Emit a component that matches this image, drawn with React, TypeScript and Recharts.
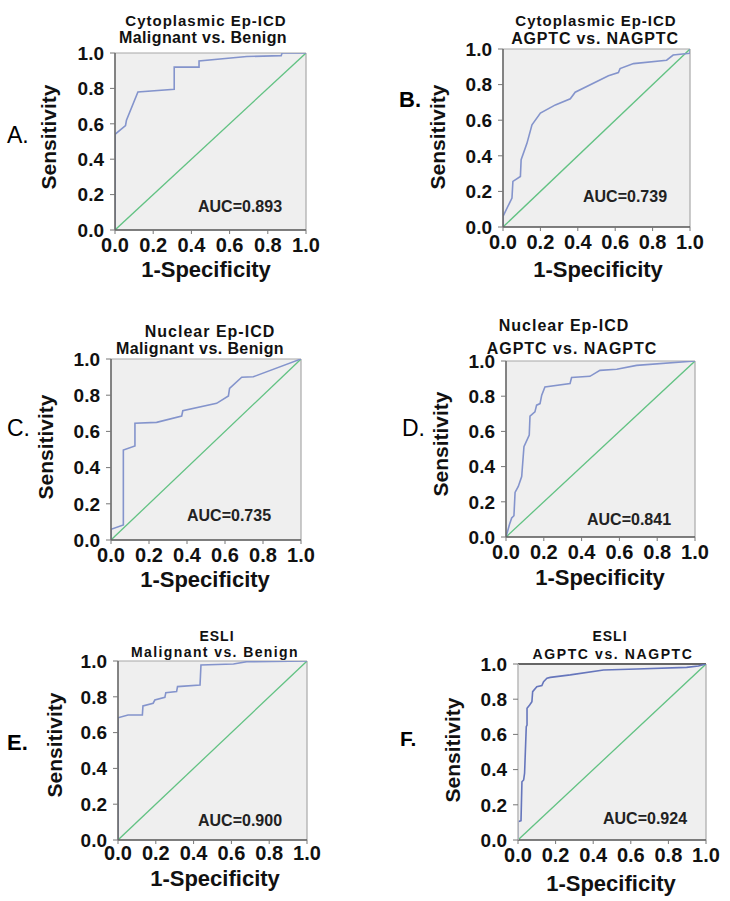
import { CartesianGrid, Line, LineChart, ReferenceLine, XAxis, YAxis } from "recharts";

type Pt = { x: number; y: number };

const FONT = '"Liberation Sans", Arial, Helvetica, sans-serif';

const axisTicks = [0, 0.2, 0.4, 0.6, 0.8, 1.0];
const diagonal: Pt[] = [
  { x: 0, y: 0 },
  { x: 1, y: 1 },
];

const rocA: Pt[] = [
  { x: 0, y: 0 }, { x: 0, y: 0.54 }, { x: 0.055, y: 0.59 }, { x: 0.06, y: 0.62 },
  { x: 0.12, y: 0.78 }, { x: 0.31, y: 0.795 }, { x: 0.31, y: 0.92 }, { x: 0.44, y: 0.92 },
  { x: 0.44, y: 0.955 }, { x: 0.69, y: 0.98 }, { x: 0.87, y: 0.985 }, { x: 0.875, y: 1 },
  { x: 1, y: 1 },
];

const rocB: Pt[] = [
  { x: 0, y: 0 }, { x: 0, y: 0.06 }, { x: 0.048, y: 0.163 }, { x: 0.053, y: 0.256 },
  { x: 0.093, y: 0.284 }, { x: 0.097, y: 0.378 }, { x: 0.128, y: 0.47 }, { x: 0.155, y: 0.574 },
  { x: 0.2, y: 0.64 }, { x: 0.28, y: 0.686 }, { x: 0.36, y: 0.72 }, { x: 0.386, y: 0.757 },
  { x: 0.564, y: 0.85 }, { x: 0.617, y: 0.868 }, { x: 0.626, y: 0.89 }, { x: 0.698, y: 0.918 },
  { x: 0.875, y: 0.937 }, { x: 0.91, y: 0.966 }, { x: 1, y: 0.976 }, { x: 1, y: 1 },
];

const rocC: Pt[] = [
  { x: 0, y: 0 }, { x: 0, y: 0.059 }, { x: 0.065, y: 0.083 }, { x: 0.065, y: 0.497 },
  { x: 0.126, y: 0.52 }, { x: 0.126, y: 0.645 }, { x: 0.24, y: 0.65 }, { x: 0.372, y: 0.685 },
  { x: 0.378, y: 0.714 }, { x: 0.556, y: 0.755 }, { x: 0.618, y: 0.796 }, { x: 0.624, y: 0.838 },
  { x: 0.688, y: 0.899 }, { x: 0.749, y: 0.902 }, { x: 1, y: 1 },
];

const rocD: Pt[] = [
  { x: 0, y: 0 }, { x: 0.018, y: 0.07 }, { x: 0.03, y: 0.108 }, { x: 0.042, y: 0.121 },
  { x: 0.048, y: 0.253 }, { x: 0.065, y: 0.287 }, { x: 0.083, y: 0.343 }, { x: 0.095, y: 0.513 },
  { x: 0.123, y: 0.579 }, { x: 0.127, y: 0.687 }, { x: 0.153, y: 0.711 }, { x: 0.162, y: 0.749 },
  { x: 0.18, y: 0.758 }, { x: 0.189, y: 0.806 }, { x: 0.206, y: 0.853 }, { x: 0.339, y: 0.872 },
  { x: 0.347, y: 0.906 }, { x: 0.444, y: 0.913 }, { x: 0.497, y: 0.947 }, { x: 0.586, y: 0.953 },
  { x: 0.691, y: 0.975 }, { x: 1, y: 1 },
];

const rocE: Pt[] = [
  { x: 0, y: 0 }, { x: 0, y: 0.683 }, { x: 0.053, y: 0.698 }, { x: 0.129, y: 0.698 },
  { x: 0.132, y: 0.749 }, { x: 0.186, y: 0.764 }, { x: 0.195, y: 0.782 }, { x: 0.248, y: 0.797 },
  { x: 0.253, y: 0.823 }, { x: 0.31, y: 0.829 }, { x: 0.315, y: 0.857 }, { x: 0.434, y: 0.866 },
  { x: 0.439, y: 0.978 }, { x: 0.611, y: 0.983 }, { x: 0.681, y: 0.996 }, { x: 1, y: 1 },
];

const rocF: Pt[] = [
  { x: 0, y: 0 }, { x: 0, y: 0.104 }, { x: 0.016, y: 0.11 }, { x: 0.021, y: 0.331 },
  { x: 0.03, y: 0.341 }, { x: 0.035, y: 0.38 }, { x: 0.044, y: 0.644 }, { x: 0.048, y: 0.653 },
  { x: 0.048, y: 0.748 }, { x: 0.062, y: 0.767 }, { x: 0.074, y: 0.786 }, { x: 0.078, y: 0.843 },
  { x: 0.1, y: 0.871 }, { x: 0.127, y: 0.877 }, { x: 0.136, y: 0.9 }, { x: 0.154, y: 0.919 },
  { x: 0.172, y: 0.924 }, { x: 0.278, y: 0.938 }, { x: 0.455, y: 0.966 }, { x: 0.632, y: 0.972 },
  { x: 0.897, y: 0.981 }, { x: 0.96, y: 0.989 }, { x: 1, y: 1 },
];

const panelLetters = ["A.", "B.", "C.", "D.", "E.", "F."];
const titleTop = ["Cytoplasmic Ep-ICD", "Cytoplasmic Ep-ICD", "Nuclear Ep-ICD", "Nuclear Ep-ICD", "ESLI", "ESLI"];
const titleBottom = [
  "Malignant vs. Benign",
  "AGPTC vs. NAGPTC",
  "Malignant vs. Benign",
  "AGPTC vs. NAGPTC",
  "Malignant vs. Benign",
  "AGPTC vs. NAGPTC",
];
const aucValues = ["0.893", "0.739", "0.735", "0.841", "0.900", "0.924"];
const rocSeries = [rocA, rocB, rocC, rocD, rocE, rocF];

interface Layout {
  plot: { x: number; y: number; w: number; h: number };
  t1: [number, number, number, number]; // x, y, size, letterSpacing
  t2: [number, number, number, number];
  letter: { x: number; y: number; size: number; bold: boolean };
  sens: [number, number];
  spec: [number, number];
  auc: [number, number];
  xTickGap: number;
  lineColor: string;
  leftAxis: string;
  topBorder: string;
}

const layouts: Layout[] = [
  {
    plot: { x: 115, y: 53, w: 191, h: 177 },
    t1: [206, 20, 15, 1], t2: [203, 38, 16, 0.4],
    letter: { x: 7, y: 135, size: 23, bold: false },
    sens: [48, 137], spec: [206, 270], auc: [198, 207],
    xTickGap: 4,
    lineColor: "#8494cc", leftAxis: "#666", topBorder: "#a8a8a8",
  },
  {
    plot: { x: 503, y: 49, w: 187, h: 178 },
    t1: [596, 20, 15, 1], t2: [595, 39, 16, 0.8],
    letter: { x: 399, y: 100, size: 22, bold: true },
    sens: [437, 137], spec: [598, 270], auc: [583, 197],
    xTickGap: 4,
    lineColor: "#8494cc", leftAxis: "#666", topBorder: "#a8a8a8",
  },
  {
    plot: { x: 111, y: 359, w: 190, h: 181 },
    t1: [210, 332, 16, 1], t2: [200, 349, 16, 0.4],
    letter: { x: 7, y: 428, size: 23, bold: false },
    sens: [45, 447], spec: [205, 580], auc: [187, 516],
    xTickGap: 4,
    lineColor: "#8494cc", leftAxis: "#666", topBorder: "#a8a8a8",
  },
  {
    plot: { x: 506, y: 361, w: 189, h: 176 },
    t1: [564, 326, 16, 1], t2: [572, 349, 16, 1],
    letter: { x: 402, y: 428, size: 23, bold: false },
    sens: [440, 444], spec: [600, 578], auc: [587, 520],
    xTickGap: 4,
    lineColor: "#8494cc", leftAxis: "#666", topBorder: "#a8a8a8",
  },
  {
    plot: { x: 118, y: 661, w: 189, h: 179 },
    t1: [217, 636, 14, 1], t2: [215, 652, 14, 1.4],
    letter: { x: 7, y: 743, size: 22, bold: true },
    sens: [54, 745], spec: [215, 879], auc: [198, 821],
    xTickGap: 2,
    lineColor: "#8494cc", leftAxis: "#666", topBorder: "#a8a8a8",
  },
  {
    plot: { x: 518, y: 664, w: 188, h: 176 },
    t1: [610, 636, 14, 1], t2: [613, 654, 14, 1.6],
    letter: { x: 400, y: 738, size: 21, bold: true },
    sens: [452, 750], spec: [611, 884], auc: [603, 819],
    xTickGap: 4,
    lineColor: "#6676bc", leftAxis: "#bdbdbd", topBorder: "#666",
  },
];

const textBase: React.CSSProperties = {
  position: "absolute",
  fontFamily: FONT,
  lineHeight: 1,
  whiteSpace: "nowrap",
  color: "#111",
};

function centered(x: number, y: number, size: number, extra?: React.CSSProperties): React.CSSProperties {
  return {
    ...textBase,
    left: x,
    top: y,
    fontSize: size,
    fontWeight: 700,
    transform: "translate(-50%, -50%)",
    ...extra,
  };
}

function RocPanel({ index }: { index: number }) {
  const l = layouts[index];
  const padL = 70;
  const padT = 12;
  const padR = 25;
  const padB = 70;
  const tickStyle = { fill: "#111", fontSize: 19, fontWeight: 700, fontFamily: FONT };

  return (
    <>
      <div style={{ position: "absolute", left: l.plot.x - padL, top: l.plot.y - padT }}>
        <LineChart
          width={l.plot.w + padL + padR}
          height={l.plot.h + padT + padB}
          margin={{ top: padT, right: padR, left: 0, bottom: 0 }}
        >
          <CartesianGrid horizontal={false} vertical={false} fill="#efefef" />
          <XAxis
            type="number"
            dataKey="x"
            domain={[0, 1]}
            ticks={axisTicks}
            tickFormatter={(v: number) => v.toFixed(1)}
            height={padB}
            tickSize={4}
            tickMargin={l.xTickGap}
            tick={{ ...tickStyle, fontSize: 20 }}
            tickLine={{ stroke: "#777" }}
            axisLine={{ stroke: "#555", strokeWidth: 1.6 }}
            allowDataOverflow
          />
          <YAxis
            type="number"
            dataKey="y"
            domain={[0, 1]}
            ticks={axisTicks}
            tickFormatter={(v: number) => v.toFixed(1)}
            width={padL}
            tickSize={5}
            tickMargin={6}
            tick={tickStyle}
            tickLine={{ stroke: "#777" }}
            axisLine={{ stroke: l.leftAxis, strokeWidth: 1.6 }}
            allowDataOverflow
          />
          <ReferenceLine x={1} stroke="#a8a8a8" strokeWidth={1.2} />
          <ReferenceLine y={1} stroke={l.topBorder} strokeWidth={l.topBorder === "#666" ? 2 : 1.2} />
          <Line
            data={diagonal}
            dataKey="y"
            type="linear"
            stroke="#62c283"
            strokeWidth={1.3}
            dot={false}
            isAnimationActive={false}
          />
          <Line
            data={rocSeries[index]}
            dataKey="y"
            type="linear"
            stroke={l.lineColor}
            strokeWidth={1.6}
            dot={false}
            isAnimationActive={false}
          />
        </LineChart>
      </div>

      <div style={centered(l.t1[0], l.t1[1], l.t1[2], { letterSpacing: l.t1[3] })}>{titleTop[index]}</div>
      <div style={centered(l.t2[0], l.t2[1], l.t2[2], { letterSpacing: l.t2[3] })}>{titleBottom[index]}</div>
      <div
        style={{
          ...textBase,
          left: l.letter.x,
          top: l.letter.y - l.letter.size / 2,
          fontSize: l.letter.size,
          fontWeight: l.letter.bold ? 700 : 400,
          color: "#000",
        }}
      >
        {panelLetters[index]}
      </div>
      <div style={centered(l.sens[0], l.sens[1], 21, { transform: "translate(-50%, -50%) rotate(-90deg)" })}>
        Sensitivity
      </div>
      <div style={centered(l.spec[0], l.spec[1], 22)}>1-Specificity</div>
      <div
        style={{
          ...textBase,
          left: l.auc[0],
          top: l.auc[1] - 8,
          fontSize: 16,
          fontWeight: 700,
          color: "#222",
        }}
      >
        AUC={aucValues[index]}
      </div>
    </>
  );
}

export default function App() {
  return (
    <div
      style={{
        position: "absolute",
        left: 0,
        top: 0,
        width: 730,
        height: 901,
        background: "#fff",
        overflow: "hidden",
        fontFamily: FONT,
      }}
    >
      {layouts.map((_, i) => (
        <RocPanel key={panelLetters[i]} index={i} />
      ))}
    </div>
  );
}
